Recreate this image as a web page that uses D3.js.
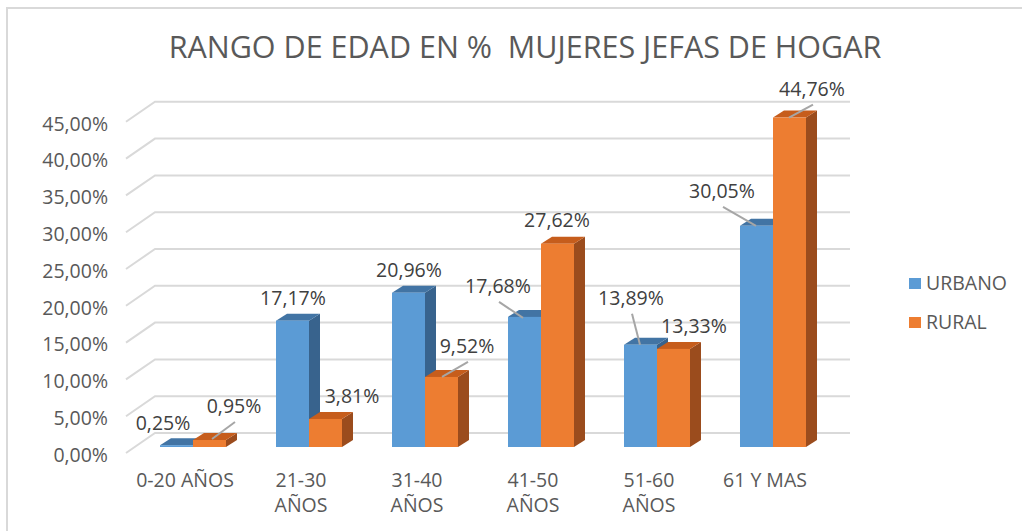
<!DOCTYPE html>
<html>
<head>
<meta charset="utf-8">
<script src="https://cdn.jsdelivr.net/npm/d3@7"></script>
<style>
  body { margin: 0; background: #fff; }
  text { font-family: "Open Sans", sans-serif; fill: #595959; }
</style>
</head>
<body>
<div id="chart"></div>
<script>
// data
var categories = [["0-20 AÑOS"], ["21-30", "AÑOS"], ["31-40", "AÑOS"], ["41-50", "AÑOS"], ["51-60", "AÑOS"], ["61 Y MAS"]];
var seriesNames = ["URBANO", "RURAL"];
var urbano = [0.25, 17.17, 20.96, 17.68, 13.89, 30.05];
var rural = [0.95, 3.81, 9.52, 27.62, 13.33, 44.76];
var yTicks = [0, 5, 10, 15, 20, 25, 30, 35, 40, 45];

// label nudges (relative to the bar's front top-left corner), leader end if any
var urbanoLabels = [[3, -15], [17, -16], [17, -16], [-10, -24], [7, -40], [-18, -28]];
var ruralLabels = [[41, -27], [43, -16], [42, -24], [16, -17], [37, -16], [39, -22]];
var urbanoLeaders = [null, null, null, [15, 1], [16, 0], [16, 0]];
var ruralLeaders = [[19, -1], null, [17, 0], null, null, [16, 0]];

var width = 1022, height = 531;
var depthX = 29, depthY = -20;   // wall depth
var barDX = 11, barDY = -7;      // bar depth
var fs = "19.5px";

var colors = {
  URBANO: { front: "#5b9bd5", top: "#4274a4", side: "#38638d" },
  RURAL: { front: "#ed7d31", top: "#c65d1c", side: "#9b4c1d" }
};

var svg = d3.select("#chart").append("svg")
  .attr("width", width)
  .attr("height", height);

// frame
svg.append("path")
  .attr("d", "M7," + height + "V8H" + width)
  .attr("fill", "none")
  .attr("stroke", "#d9d9d9")
  .attr("stroke-width", 2);

// title
svg.append("text")
  .attr("x", 525)
  .attr("y", 58)
  .attr("text-anchor", "middle")
  .style("font-size", "30.5px")
  .style("white-space", "pre")
  .text("RANGO DE EDAD EN %  MUJERES JEFAS DE HOGAR");

// scales
var x = d3.scaleBand()
  .domain(d3.range(categories.length))
  .range([160, 806])
  .paddingInner(0.431)
  .paddingOuter(0);

var xs = d3.scaleBand()
  .domain(seriesNames)
  .range([0, x.bandwidth()]);

var y = d3.scaleLinear().domain([0, 45]).range([447, 447 - 45 * 7.36]);   // bar plane
var yFront = d3.scaleLinear().domain([0, 45]).range([453, 453 - 45 * 7.36]);

var locale = d3.formatLocale({ decimal: ",", thousands: ".", grouping: [3], currency: ["", ""] });
var fmt = function (v) { return locale.format(".2f")(v) + "%"; };

// gridlines: floor diagonal + back wall
var grid = svg.append("g").attr("class", "grid");
grid.selectAll("path")
  .data(yTicks)
  .enter()
  .append("path")
  .attr("d", function (d) {
    var y0 = yFront(d);
    return "M126," + y0 + "l" + depthX + "," + depthY + "H850";
  })
  .attr("fill", "none")
  .attr("stroke", "#d9d9d9")
  .attr("stroke-width", 2);

// y axis labels
svg.append("g")
  .selectAll("text")
  .data(yTicks)
  .enter()
  .append("text")
  .attr("x", 108)
  .attr("y", function (d) { return yFront(d) + 2; })
  .attr("dy", "0.35em")
  .attr("text-anchor", "end")
  .style("font-size", fs)
  .text(fmt);

// bars
var rows = [];
categories.forEach(function (c, i) {
  rows.push({ i: i, s: "URBANO", v: urbano[i], lab: urbanoLabels[i], lead: urbanoLeaders[i] });
  rows.push({ i: i, s: "RURAL", v: rural[i], lab: ruralLabels[i], lead: ruralLeaders[i] });
});

var bw = xs.bandwidth();
var bars = svg.append("g").selectAll("g")
  .data(rows)
  .enter()
  .append("g");

bars.append("path")  // side
  .attr("d", function (d) {
    var x1 = x(d.i) + xs(d.s) + bw, y0 = y(0), y1 = y(d.v);
    return "M" + x1 + "," + y0 + "V" + y1 + "l" + barDX + "," + barDY + "V" + (y0 + barDY) + "Z";
  })
  .attr("fill", function (d) { return colors[d.s].side; });

bars.append("path")  // top
  .attr("d", function (d) {
    var x0 = x(d.i) + xs(d.s), y1 = y(d.v);
    return "M" + x0 + "," + y1 + "h" + bw + "l" + barDX + "," + barDY + "h" + (-bw) + "Z";
  })
  .attr("fill", function (d) { return colors[d.s].top; });

bars.append("rect")  // front
  .attr("x", function (d) { return x(d.i) + xs(d.s); })
  .attr("y", function (d) { return y(d.v); })
  .attr("width", bw)
  .attr("height", function (d) { return y(0) - y(d.v); })
  .attr("fill", function (d) { return colors[d.s].front; });

// leader lines
bars.filter(function (d) { return d.lead; })
  .append("line")
  .attr("x1", function (d) { return x(d.i) + xs(d.s) + d.lab[0] + 1; })
  .attr("y1", function (d) { return y(d.v) + d.lab[1] + 9; })
  .attr("x2", function (d) { return x(d.i) + xs(d.s) + d.lead[0]; })
  .attr("y2", function (d) { return y(d.v) + d.lead[1]; })
  .attr("stroke", "#a6a6a6")
  .attr("stroke-width", 2);

// data labels
bars.append("text")
  .attr("x", function (d) { return x(d.i) + xs(d.s) + d.lab[0]; })
  .attr("y", function (d) { return y(d.v) + d.lab[1]; })
  .attr("text-anchor", "middle")
  .style("font-size", fs)
  .style("fill", "#404040")
  .text(function (d) { return fmt(d.v); });

// category labels
var cat = svg.append("g").selectAll("text")
  .data(categories)
  .enter()
  .append("text")
  .attr("x", function (d, i) { return x(i) + x.bandwidth() / 2 - 8; })
  .attr("y", 487)
  .attr("text-anchor", "middle")
  .style("font-size", fs);

cat.selectAll("tspan")
  .data(function (d) { return d; })
  .enter()
  .append("tspan")
  .attr("x", function () { return d3.select(this.parentNode).attr("x"); })
  .attr("dy", function (d, j) { return j === 0 ? 0 : 25; })
  .text(function (d) { return d; });

// legend
var legend = svg.append("g").selectAll("g")
  .data(seriesNames)
  .enter()
  .append("g")
  .attr("transform", function (d, i) { return "translate(909," + (278 + i * 39) + ")"; });

legend.append("rect")
  .attr("width", 12)
  .attr("height", 11)
  .attr("fill", function (d) { return colors[d].front; });

legend.append("text")
  .attr("x", 17)
  .attr("y", 12)
  .style("font-size", fs)
  .text(function (d) { return d; });
</script>
</body>
</html>
